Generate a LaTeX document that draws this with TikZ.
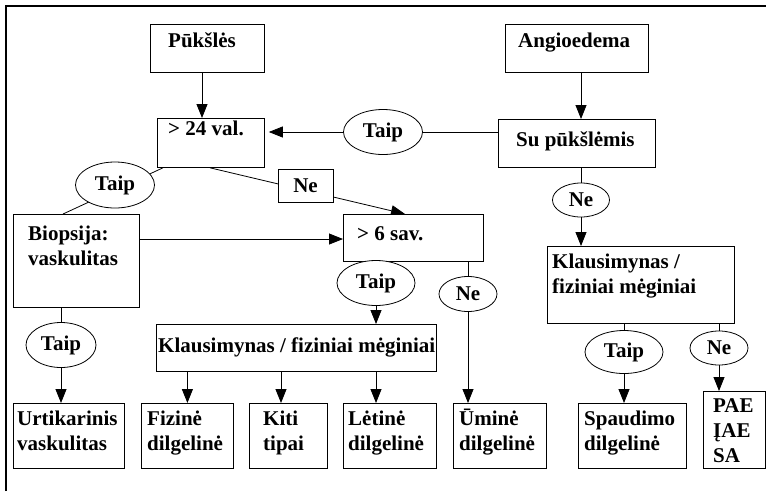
\documentclass[tikz,border=0pt]{standalone}
\usepackage{fontspec}
\setmainfont{Liberation Serif}
\usetikzlibrary{arrows.meta,shapes.geometric,calc}
\pgfdeclarelayer{bg}
\pgfsetlayers{bg,main}
\newcommand\ft{\bfseries\fontsize{21}{25}\selectfont}
\tikzset{
  box/.style={draw, line width=0.8pt, fill=white, rectangle, inner sep=0pt, anchor=north west},
  ell/.style={draw, ellipse, line width=0.8pt, fill=white, inner sep=0pt, font=\ft},
  txt/.style={anchor=base west, inner sep=0pt, font=\ft},
  con/.style={line width=0.8pt},
  arr/.style={con, -{Triangle[length=14pt,width=11pt]}},
}
\newcommand\mybox[5]{\node[box, minimum width={(#4)-(#2)}, minimum height={(#5)-(#3)}] (#1) at (#2,#3) {};}
\newcommand\tl[3]{\node[txt] at (#1,#2) {#3};}
\begin{document}
\begin{tikzpicture}[x=1pt,y=-1pt]
\useasboundingbox (0,0) rectangle (766,491);
\draw[line width=1.4pt] (6,491) -- (6,6) -- (766,6);

% boxes
\mybox{puk}{150}{24}{264}{72}
\mybox{ang}{505}{24}{648}{72}
\mybox{h24}{157}{118}{264}{167}
\mybox{su}{498}{119}{655}{167}
\mybox{sav}{343}{214}{483}{261}
\mybox{bio}{13}{214}{139}{307}
\mybox{klm}{156}{324}{436}{371}
\mybox{klr}{547}{246}{734}{323}
\mybox{urt}{13}{403}{124}{468}
\mybox{fiz}{141}{403}{233}{468}
\mybox{kiti}{249}{403}{327}{468}
\mybox{let}{343}{403}{436}{468}
\mybox{umi}{453}{403}{546}{468}
\mybox{spa}{578}{403}{686}{468}
\mybox{pae}{703}{391}{765}{468}
\node[box, anchor=center, minimum width=55, minimum height=33, font=\ft] (neb) at (305.5,185.5) {Ne};

% texts in boxes
\tl{168}{47}{Pūkšlės}
\tl{518}{47}{Angioedema}
\tl{168}{135}{> 24 val.}
\tl{516}{146}{Su pūkšlėmis}
\tl{357}{240}{> 6 sav.}
\tl{28}{240}{Biopsija:}
\tl{28}{265}{vaskulitas}
\tl{158}{352}{Klausimynas / fiziniai mėginiai}
\tl{552}{268}{Klausimynas /}
\tl{552}{293}{fiziniai mėginiai}
\tl{17}{425}{Urtikarinis}
\tl{17}{450}{vaskulitas}
\tl{147}{425}{Fizinė}
\tl{147}{450}{dilgelinė}
\tl{263}{425}{Kiti}
\tl{263}{450}{tipai}
\tl{348}{425}{Lėtinė}
\tl{348}{450}{dilgelinė}
\tl{459}{425}{Ūminė}
\tl{459}{450}{dilgelinė}
\tl{584}{425}{Spaudimo}
\tl{584}{450}{dilgelinė}
\tl{713}{412}{PAE}
\tl{713}{437}{ĮAE}
\tl{713}{462}{SA}

% ellipses
\node[ell, minimum width=79, minimum height=45] (tTop) at (383,132) {Taip};
\node[ell, minimum width=79, minimum height=46] (tL) at (115,185) {Taip};
\node[ell, minimum width=57, minimum height=34] (nSu) at (581,200) {Ne};
\node[ell, minimum width=78, minimum height=45] (tMid) at (376,283) {Taip};
\node[ell, minimum width=58, minimum height=35] (nMid) at (468,294) {Ne};
\node[ell, minimum width=70, minimum height=45] (tBio) at (61,345) {Taip};
\node[ell, minimum width=78, minimum height=43] (tR) at (624,352) {Taip};
\node[ell, minimum width=58, minimum height=34] (nR) at (719,348) {Ne};

% connectors
\begin{pgfonlayer}{bg}
\draw[arr] (puk.south -| 202,0) -- (h24.north -| 202,0);
\draw[arr] (ang.south -| 581,0) -- (su.north -| 581,0);
\draw[con] (tTop.east) -- (tTop.east -| su.west);
\draw[arr] (tTop.west) -- ($(tTop.west -| h24.east)+(4,0)$);
\draw[con] (su.south -| nSu) -- (nSu.north);
\draw[arr] (nSu.south) -- (nSu.south |- klr.north);
\draw[con] ($(h24.south west)+(6,0)$) -- ($(bio.north west)+(50,0)$);
\draw[arr] ($(h24.south west)+(53,0)$) -- ($(sav.north west)+(62,0)$);
\draw[arr] ($(bio.north east)+(0,25)$) -- ($(sav.north west)+(0,25)$);
\draw[con] (sav.south -| tMid) -- (tMid.north);
\draw[arr] (tMid.south) -- (tMid.south |- klm.north);
\draw[con] (sav.south -| nMid) -- (nMid.north);
\draw[arr] (nMid.south) -- (nMid.south |- umi.north);
\draw[arr] (klm.south -| fiz) -- (fiz.north);
\draw[arr] (klm.south -| 281,0) -- (kiti.north -| 281,0);
\draw[arr] (klm.south -| 376,0) -- (let.north -| 376,0);
\draw[con] (bio.south -| tBio) -- (tBio.north);
\draw[arr] (tBio.south) -- (tBio.south |- urt.north);
\draw[con] (klr.south -| tR) -- (tR.north);
\draw[arr] (tR.south) -- (tR.south |- spa.north);
\draw[con] (klr.south -| nR) -- (nR.north);
\draw[arr] (nR.south) -- (nR.south |- pae.north);
\end{pgfonlayer}
\end{tikzpicture}
\end{document}
